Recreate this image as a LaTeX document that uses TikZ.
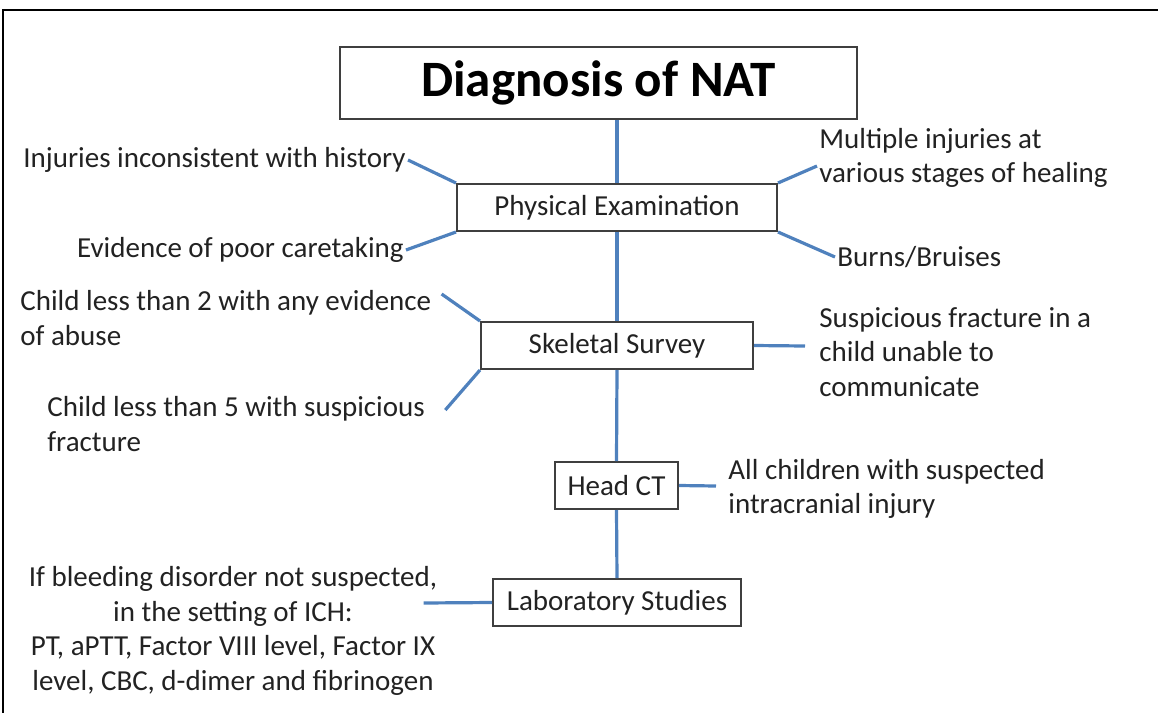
\documentclass[tikz,border=0pt]{standalone}
\usepackage{fontspec}
\setmainfont{Carlito}
\definecolor{linkblue}{HTML}{4F81BD}
\definecolor{boxgray}{HTML}{3F3F3F}
\definecolor{inkgray}{HTML}{222222}
\tikzset{
  stagebox/.style={draw=boxgray, line width=1pt, fill=white, inner sep=0pt, minimum height=23.5pt, text=inkgray},
  note/.style={inner sep=1pt, text=inkgray, align=left},
  link/.style={linkblue, line width=1.6pt},
}

\begin{document}
\begin{tikzpicture}[x=0.5pt, y=-0.5pt, font=\fontsize{14.5}{17.4}\selectfont]
  \useasboundingbox (0,0) rectangle (1158,713);
  % Frame
  \draw[line width=1pt] (3,713) -- (3,10) -- (1158,10);

  % Stages
  \node[stagebox, minimum width=258.5pt, minimum height=36pt, text=black,
        font=\fontsize{25.5}{30}\selectfont\bfseries] (title) at (598.5,83) {Diagnosis of NAT};
  \node[stagebox, minimum width=160pt] (exam) at (617,207.5) {Physical Examination};
  \node[stagebox, minimum width=136pt] (survey) at (617,345.5) {Skeletal Survey};
  \node[stagebox, minimum width=61.5pt] (headct) at (616.5,485.5) {Head CT};
  \node[stagebox, minimum width=124pt] (labs) at (617,602.5) {Laboratory Studies};

  % Main spine
  \draw[link] (title.south -| exam.north) -- (exam.north);
  \draw[link] (exam.south) -- (survey.north);
  \draw[link] (survey.south) -- (headct.north);
  \draw[link] (headct.south) -- (labs.north);

  % Physical examination findings
  \node[note, anchor=east] (inj) at (408,160) {Injuries inconsistent with history};
  \node[note, anchor=east] (care) at (406,250) {Evidence of poor caretaking};
  \node[note, anchor=west] (multi) at (817,158) {Multiple injuries at\\various stages of healing};
  \node[note, anchor=west] (burns) at (835,257) {Burns/Bruises};
  \draw[link] (exam.north west) -- (inj.east);
  \draw[link] (exam.south west) -- (care.east);
  \draw[link] (exam.north east) -- ([yshift=-4pt]multi.west);
  \draw[link] (exam.south east) -- (burns.west);

  % Skeletal survey indications
  \node[note, anchor=north west] (child2) at (18,288) {Child less than 2 with any evidence\\of abuse};
  \node[note, anchor=north west] (child5) at (45,394) {Child less than 5 with suspicious\\fracture};
  \node[note, anchor=west] (frac) at (817,352) {Suspicious fracture in a\\child unable to\\communicate};
  \draw[link] (survey.north west) -- ([shift={(4pt,-3pt)}]child2.north east);
  \draw[link] (survey.south west) -- ([shift={(9pt,-8pt)}]child5.north east);
  \draw[link] (survey.east) -- ([shift={(-6pt,3pt)}]frac.west);

  % Head CT indication
  \node[note, anchor=west] (icr) at (726,489) {All children with suspected\\intracranial injury};
  \draw[link] (headct.east) -- ([shift={(-5pt,1.5pt)}]icr.west);

  % Laboratory studies
  \node[note, align=center] (bleed) at (233,631) {If bleeding disorder not suspected,\\in the setting of ICH:\\PT, aPTT, Factor VIII level, Factor IX\\level, CBC, d-dimer and fibrinogen};
  \draw[link] (labs.west) -- ([shift={(-8pt,14pt)}]bleed.east);
\end{tikzpicture}
\end{document}
